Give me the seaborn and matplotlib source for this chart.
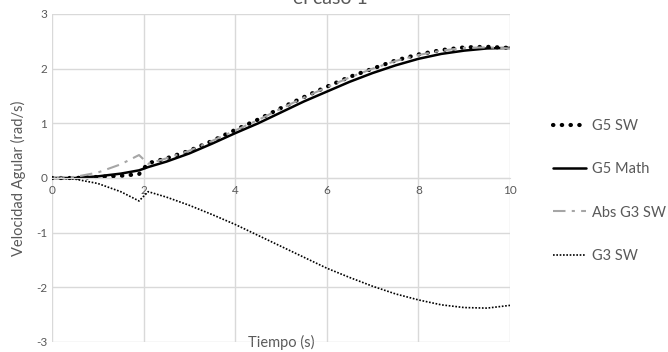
import numpy as np
import pandas as pd
import matplotlib
matplotlib.use("Agg")
import matplotlib.pyplot as plt
import seaborn as sns

# tiempo (s)
t = [0, 0.5, 1, 1.5, 1.9, 2.1, 2.5, 3, 3.5, 4, 4.5, 5, 5.5, 6, 6.5, 7, 7.5, 8, 8.5, 9, 9.5, 10]

g5_sw = [0, 0.0, 0.02, 0.04, 0.07, 0.27, 0.36, 0.5, 0.68, 0.88, 1.07, 1.28, 1.48, 1.67,
         1.85, 2.0, 2.15, 2.26, 2.34, 2.39, 2.4, 2.38]
g5_math = [0, 0.0, 0.03, 0.08, 0.14, 0.2, 0.3, 0.45, 0.63, 0.82, 1.0, 1.2, 1.4, 1.58,
           1.76, 1.92, 2.06, 2.18, 2.27, 2.33, 2.37, 2.38]
abs_g3_sw = [0, 0.02, 0.1, 0.25, 0.42, 0.26, 0.36, 0.5, 0.68, 0.87, 1.06, 1.27, 1.47, 1.66,
             1.84, 2.0, 2.14, 2.25, 2.33, 2.38, 2.39, 2.37]
g3_sw = [0, -0.02, -0.1, -0.25, -0.42, -0.25, -0.35, -0.5, -0.67, -0.85, -1.05, -1.25,
         -1.45, -1.65, -1.82, -1.98, -2.12, -2.23, -2.32, -2.37, -2.38, -2.33]

sns.set_style("white")
plt.rcParams['font.family'] = ['Lato', 'DejaVu Sans']
plt.rcParams['axes.unicode_minus'] = False

fig = plt.figure(figsize=(6.68, 3.52), dpi=100)
ax = fig.add_axes([52/668, 10/352, 458/668, 328/352])

sns.lineplot(x=t, y=g5_sw, ax=ax, color="black", lw=3, label="G5 SW",
             linestyle=(0, (0.1, 2.0)), dash_capstyle="round")
sns.lineplot(x=t, y=g5_math, ax=ax, color="black", lw=1.8, label="G5 Math")
sns.lineplot(x=t, y=abs_g3_sw, ax=ax, color="#a6a6a6", lw=1.5, label="Abs G3 SW",
             linestyle=(0, (6, 3, 1.5, 3)))
sns.lineplot(x=t, y=g3_sw, ax=ax, color="black", lw=1.2, label="G3 SW",
             linestyle=(0, (1, 1)))

ax.set_xlim(0, 10)
ax.set_ylim(-3, 3)
ax.set_xticks([0, 2, 4, 6, 8, 10])
ax.set_yticks([-3, -2, -1, 0, 1, 2, 3])
ax.grid(True, color="#d9d9d9", lw=1)
for s in ["top", "right", "left"]:
    ax.spines[s].set_visible(False)
ax.spines["bottom"].set_position(("data", 0))
ax.spines["bottom"].set_color("#d9d9d9")
ax.tick_params(length=0, labelsize=8.5, labelcolor="#595959")
ax.tick_params(axis="x", pad=5)

ax.set_xlabel("Tiempo (s)", fontsize=10.5, color="#595959")
ax.xaxis.set_label_coords(0.5, 0.022)
ax.set_ylabel("Velocidad Agular (rad/s)", fontsize=10.5, color="#595959")
ax.yaxis.set_label_coords(-0.056, 0.5)

fig.text(0.495, 1.005, "el caso 1", ha="center", va="center", fontsize=14, color="#595959")

ax.legend(loc="center left", bbox_to_anchor=(550/668, 161/352), bbox_transform=fig.transFigure,
          frameon=False, fontsize=10.5, labelspacing=2.0, handlelength=2.3, handletextpad=0.4,
          borderpad=0.2, borderaxespad=0, labelcolor="#595959")

fig.savefig("out.png", dpi=100)
